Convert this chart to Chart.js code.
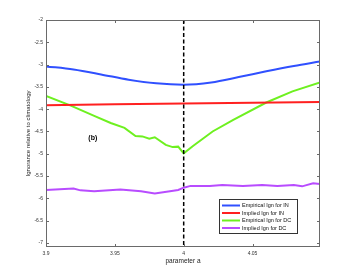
<!DOCTYPE html>
<html>
<head>
<meta charset="utf-8">
<script src="https://cdn.jsdelivr.net/npm/chart.js@4/dist/chart.umd.min.js"></script>
<style>
html,body{margin:0;padding:0;background:#fff;}
#wrap{width:354px;height:278px;}
</style>
</head>
<body>
<div id="wrap"><canvas id="c" width="354" height="278"></canvas></div>
<script>
// ---- data ----
const seriesLabels = ["Empirical Ign for IN", "Implied Ign for IN", "Empirical Ign for DC", "Implied Ign for DC"];
const seriesColors = ["#3050ff", "#ff2020", "#6ef020", "#b84cff"];

const empINa = [3.9, 3.92, 3.94, 3.96, 3.98, 4.0, 4.02, 4.04, 4.06, 4.08, 4.099];
const empINv = [-3.04, -3.11, -3.22, -3.34, -3.42, -3.45, -3.40, -3.28, -3.15, -3.03, -2.93];

const impINa = [3.9, 3.95, 4.0, 4.05, 4.099];
const impINv = [-3.91, -3.89, -3.87, -3.855, -3.84];

const empDCa = [3.9, 3.918, 3.935, 3.947, 3.957, 3.965, 3.970, 3.975, 3.979, 3.987, 3.992, 3.996, 4.0, 4.007, 4.021, 4.036, 4.06, 4.079, 4.099];
const empDCv = [-3.70, -3.92, -4.15, -4.31, -4.42, -4.60, -4.61, -4.66, -4.63, -4.80, -4.85, -4.84, -4.99, -4.82, -4.50, -4.24, -3.85, -3.60, -3.40];

const impDCa = [3.9, 3.92, 3.925, 3.935, 3.954, 3.969, 3.979, 3.99, 3.996, 4.0, 4.005, 4.019, 4.028, 4.043, 4.057, 4.068, 4.080, 4.086, 4.094, 4.099];
const impDCv = [-5.81, -5.78, -5.82, -5.84, -5.80, -5.84, -5.89, -5.84, -5.81, -5.76, -5.72, -5.72, -5.70, -5.72, -5.70, -5.72, -5.70, -5.73, -5.66, -5.68];

const xTicks = [3.9, 3.95, 4.0, 4.05];
const yTicks = [-2, -2.5, -3, -3.5, -4, -4.5, -5, -5.5, -6, -6.5, -7];
const markerA = 4.0;
const panelLabel = "(b)";
const panelPos = [3.934, -4.64];
const xTitle = "parameter a";
const yTitle = "Ignorance relative to climatology";

// ---- build ----
const pts = (a, v) => a.map((x, i) => ({x: x, y: v[i]}));
const seriesData = [pts(empINa, empINv), pts(impINa, impINv), pts(empDCa, empDCv), pts(impDCa, impDCv)];
const FONT = "'Liberation Sans', Arial, sans-serif";
const AXIS = "#6a6a6a";

const framePlugin = {
  id: 'frame',
  afterDatasetsDraw(chart) {
    const {ctx, chartArea: ca, scales: {x, y}} = chart;
    ctx.save();
    // dashed marker line
    const px = x.getPixelForValue(markerA);
    ctx.strokeStyle = '#000';
    ctx.lineWidth = 1.5;
    ctx.setLineDash([4, 2.5]);
    ctx.beginPath(); ctx.moveTo(px, ca.top); ctx.lineTo(px, ca.bottom); ctx.stroke();
    ctx.setLineDash([]);
    // box
    ctx.strokeStyle = AXIS;
    ctx.lineWidth = 1;
    ctx.strokeRect(Math.round(ca.left) + 0.5, Math.round(ca.top) + 0.5, Math.round(ca.right - ca.left) - 1, Math.round(ca.bottom - ca.top) - 1);
    // inward ticks
    const tl = 3;
    ctx.beginPath();
    xTicks.forEach(v => {
      const p = Math.round(x.getPixelForValue(v)) + 0.5;
      ctx.moveTo(p, ca.bottom); ctx.lineTo(p, ca.bottom - tl);
      ctx.moveTo(p, ca.top); ctx.lineTo(p, ca.top + tl);
    });
    yTicks.forEach(v => {
      const p = Math.round(y.getPixelForValue(v)) + 0.5;
      ctx.moveTo(ca.left, p); ctx.lineTo(ca.left + tl, p);
      ctx.moveTo(ca.right, p); ctx.lineTo(ca.right - tl, p);
    });
    ctx.stroke();
    // panel label
    ctx.fillStyle = '#000';
    ctx.font = "bold 7px " + FONT;
    ctx.textAlign = 'center';
    ctx.textBaseline = 'middle';
    ctx.fillText(panelLabel, x.getPixelForValue(panelPos[0]), y.getPixelForValue(panelPos[1]));
    ctx.restore();
  },
  afterDraw(chart) {
    const {ctx} = chart;
    const ds = chart.data.datasets;
    const bx = 219, by = 199, bw = 78, bh = 34;
    ctx.save();
    ctx.fillStyle = '#fff';
    ctx.fillRect(bx, by, bw, bh);
    ctx.strokeStyle = '#333';
    ctx.lineWidth = 1;
    ctx.strokeRect(bx + 0.5, by + 0.5, bw, bh);
    ctx.font = "5.5px " + FONT;
    ctx.textBaseline = 'middle';
    ctx.textAlign = 'left';
    ds.forEach((d, i) => {
      const yy = by + 6.5 + i * 7.5;
      ctx.strokeStyle = d.borderColor;
      ctx.lineWidth = 2;
      ctx.beginPath(); ctx.moveTo(bx + 3, yy); ctx.lineTo(bx + 21, yy); ctx.stroke();
      ctx.fillStyle = '#111';
      ctx.fillText(d.label, bx + 23, yy);
    });
    ctx.restore();
  }
};

new Chart(document.getElementById('c'), {
  type: 'line',
  data: {
    datasets: seriesData.map((d, i) => ({
      label: seriesLabels[i],
      data: d,
      borderColor: seriesColors[i],
      backgroundColor: seriesColors[i],
      borderWidth: 2,
      pointRadius: 0,
      fill: false,
      tension: (i === 0) ? 0.4 : 0,
      cubicInterpolationMode: (i === 0) ? 'monotone' : 'default'
    }))
  },
  options: {
    responsive: false,
    animation: false,
    devicePixelRatio: 1,
    layout: {padding: {top: 20, right: 34, left: 0, bottom: 0}},
    plugins: {legend: {display: false}, tooltip: {enabled: false}},
    scales: {
      x: {
        type: 'linear',
        min: 3.9, max: 4.099,
        afterFit(s) { s.height = 31; },
        afterBuildTicks(s) { s.ticks = xTicks.map(v => ({value: v})); },
        grid: {display: false, drawTicks: false},
        border: {display: false},
        ticks: {
          padding: 4, maxRotation: 0, autoSkip: false,
          color: '#333', font: {family: FONT, size: 5},
          callback: v => String(v)
        },
        title: {display: true, text: xTitle, color: '#222', font: {family: FONT, size: 6.5}, padding: {top: 0, bottom: 13}}
      },
      y: {
        type: 'linear',
        min: -7.09, max: -2,
        afterFit(s) { s.width = 46; },
        afterBuildTicks(s) { s.ticks = yTicks.map(v => ({value: v})); },
        grid: {display: false, drawTicks: false},
        border: {display: false},
        ticks: {
          padding: 3, autoSkip: false,
          color: '#333', font: {family: FONT, size: 5},
          callback: v => String(v)
        },
        title: {display: true, text: yTitle, color: '#222', font: {family: FONT, size: 6}, padding: {top: 25, bottom: 0}}
      }
    }
  },
  plugins: [framePlugin]
});
</script>
</body>
</html>
